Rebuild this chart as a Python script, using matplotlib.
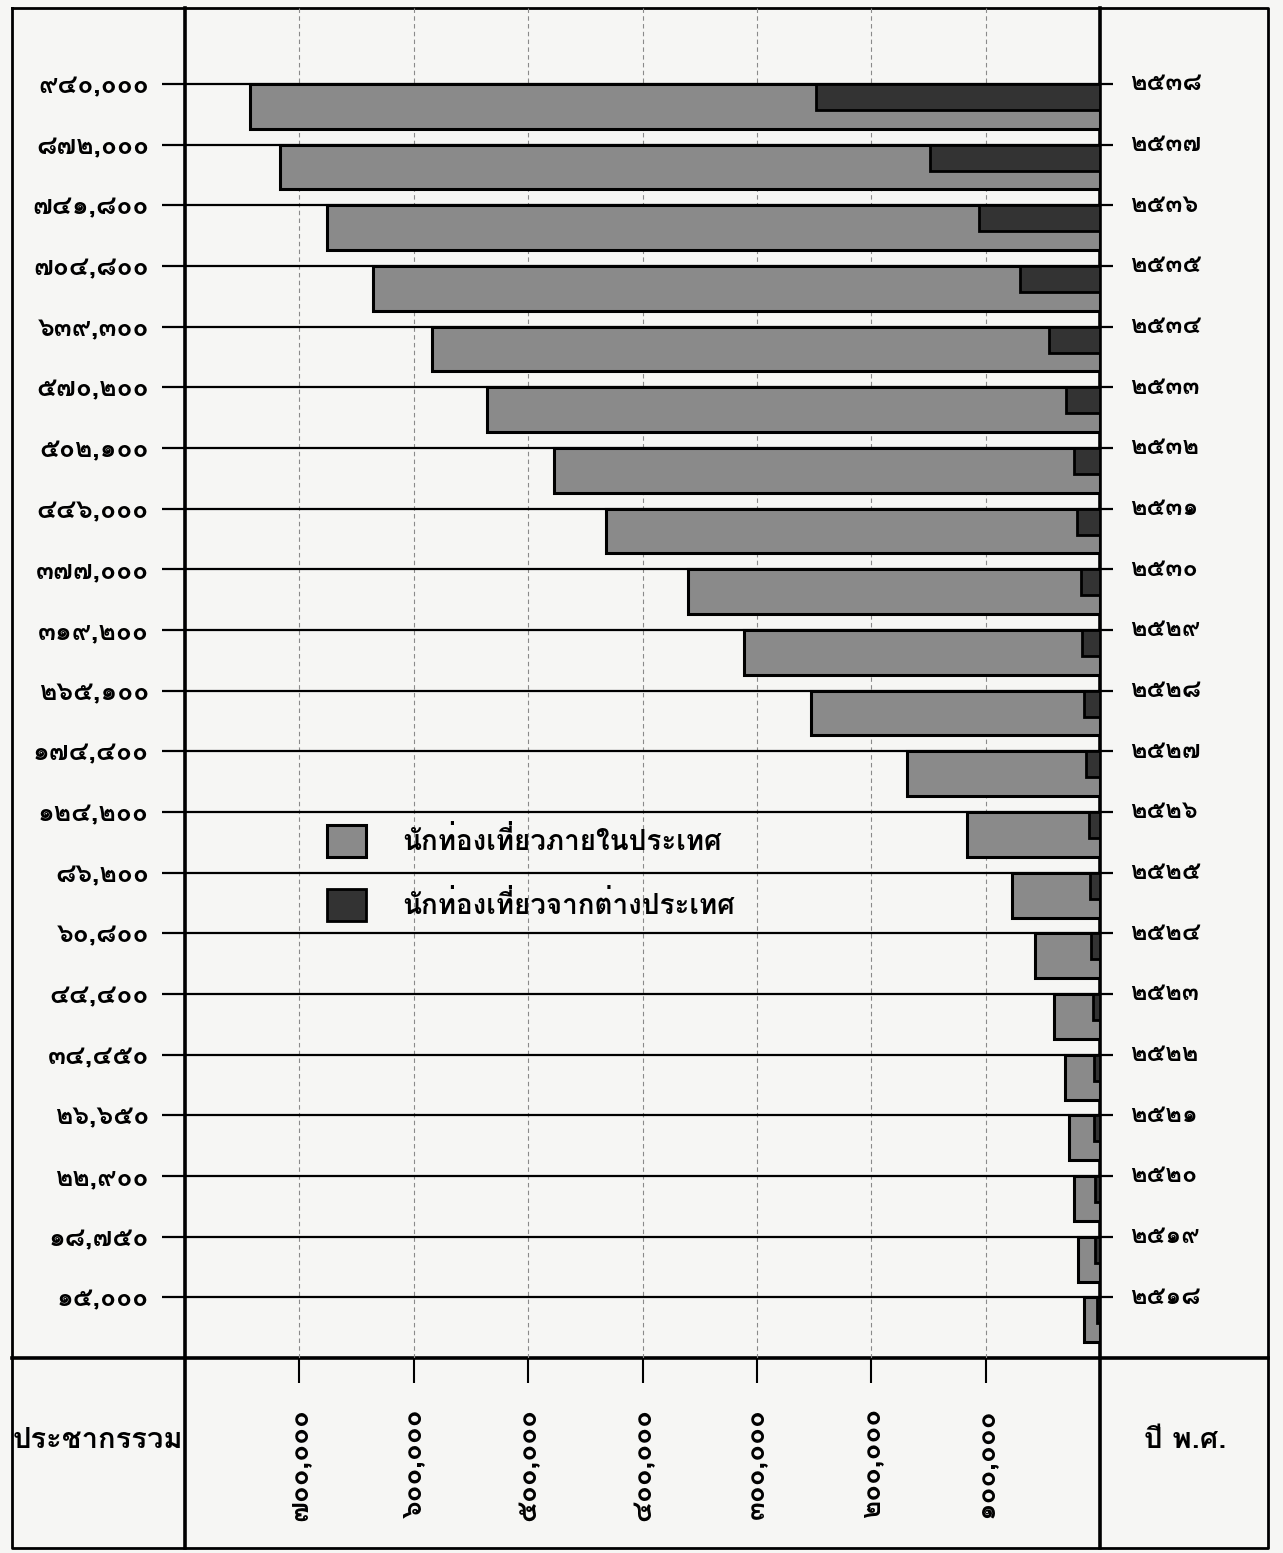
import numpy as np
import matplotlib
matplotlib.use("Agg")
import matplotlib.pyplot as plt

# years (B.E.), top row first
years = list(range(2538, 2517, -1))
# totals printed on the left
totals = [940000, 872000, 741800, 704800, 639300, 570200, 502100, 446000, 377000,
          319200, 265100, 174400, 124200, 86200, 60800, 44400, 34450, 26650,
          22900, 18750, 15000]
# bar lengths (whole bar / dark foreign part)
bar_len = [743000, 717000, 676000, 636000, 584000, 536000, 477000, 432000, 360000,
           311000, 253000, 169000, 116000, 77000, 57000, 40000, 31000, 27000,
           23000, 19000, 14000]
foreign_len = [248000, 149000, 106000, 70000, 45000, 30000, 23000, 20000, 17000,
               16000, 14000, 12000, 10000, 9000, 8000, 6000, 5000, 5000, 4000,
               4000, 3000]
x_ticks = [100000, 200000, 300000, 400000, 500000, 600000, 700000]
legend_labels = ["นักท่องเที่ยวภายในประเทศ", "นักท่องเที่ยวจากต่างประเทศ"]

plt.rcParams["font.family"] = ["Loma", "DejaVu Sans"]

thai = str.maketrans("0123456789", "๐๑๒๓๔๕๖๗๘๙")
def th(n, comma=True):
    return (f"{n:,}" if comma else str(n)).translate(thai)

W, H = 1283, 1553
fig = plt.figure(figsize=(W / 100, H / 100), dpi=100)
fig.patch.set_facecolor("#f6f6f4")

# frame / table lines in pixel coords
bg = fig.add_axes([0, 0, 1, 1])
bg.set_xlim(0, W)
bg.set_ylim(H, 0)
bg.axis("off")
bg.plot([12, 1268, 1268, 12, 12], [8, 8, 1548, 1548, 8], color="k", lw=2)
bg.plot([185, 185], [8, 1548], color="k", lw=2.6)
bg.plot([1100, 1100], [8, 1548], color="k", lw=2.6)
bg.plot([12, 1268], [1358, 1358], color="k", lw=2.6)
bg.text(98, 1440, "ประชากรรวม", ha="center", va="center", fontsize=21, weight="bold")
bg.text(1185, 1440, "ปี พ.ศ.", ha="center", va="center", fontsize=21, weight="bold")

ax = fig.add_axes([185 / W, (H - 1358) / H, 915 / W, 1350 / H])
ax.set_facecolor("none")
ax.set_xlim(800000, 0)
ax.set_ylim(21.0, -1.25)

y = np.arange(len(years))
b1 = ax.barh(y + 0.37, bar_len, height=0.74, color="#8a8a8a", edgecolor="k",
             linewidth=2.2, zorder=3)
b2 = ax.barh(y + 0.215, foreign_len, height=0.43, color="#333333", edgecolor="k",
             linewidth=2, zorder=4)

ax.hlines(y, 820000, -11000, color="k", lw=1.6, clip_on=False, zorder=2)

ax.set_xticks(x_ticks)
ax.set_xticklabels([th(v) for v in x_ticks], fontsize=20, weight="bold")
ax.grid(axis="x", color="#8a8a8a", lw=0.8, ls=(0, (4, 3)))
ax.tick_params(axis="x", direction="out", length=18, width=1.5, pad=18, labelrotation=90)

ax.set_yticks(y)
ax.set_yticklabels([th(t) for t in totals], fontsize=19, weight="bold")
ax.tick_params(axis="y", length=0, pad=26)

for yi, yr in zip(y, years):
    ax.text(1.033, yi, th(yr, comma=False), transform=ax.get_yaxis_transform(),
            ha="left", va="center", fontsize=18, weight="bold")

for s in ax.spines.values():
    s.set_visible(False)

ax.legend([b1, b2], legend_labels, loc="upper left", bbox_to_anchor=(327 / W, 1 - 825 / H),
          bbox_transform=fig.transFigure, frameon=False, prop={"size": 20, "weight": "bold"},
          handlelength=1.4, handleheight=1.4, handletextpad=1.3, labelspacing=1.15,
          borderpad=0, borderaxespad=0)

fig.savefig("out.png", dpi=100)
